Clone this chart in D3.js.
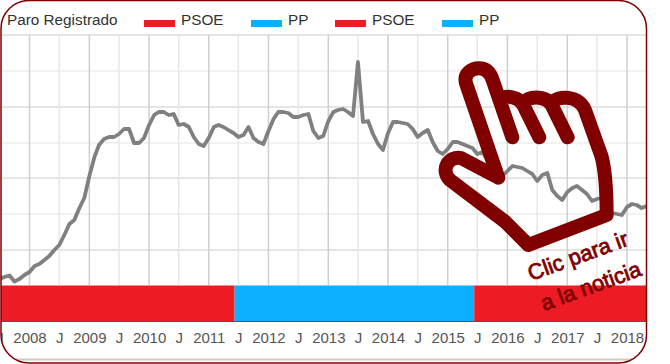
<!DOCTYPE html>
<html>
<head>
<meta charset="utf-8">
<script src="https://cdnjs.cloudflare.com/ajax/libs/d3/7.8.5/d3.min.js"></script>
<style>
html, body { margin: 0; padding: 0; background: #fff; }
svg { display: block; font-family: "Liberation Sans", Arial, sans-serif; }
</style>
</head>
<body>
<svg id="chart" width="670" height="364"></svg>
<script>
// Monthly values from Jul 2007 (height above the bands)
const START_DATE = new Date(2007, 6, 1);
const PARO = [
  6, 8, 9.5, 3.5, 6, 10, 13, 19, 21, 25, 29, 35, 40, 50, 61, 65, 77, 87, 109, 128,
  140, 146, 148, 148, 151, 156, 156, 142, 142, 147, 160, 170, 173, 173, 170, 171, 160, 161, 158, 148,
  141, 139, 147, 158, 160, 158, 155, 152, 148, 150, 158, 147, 143, 141, 154, 166, 173, 173, 172, 168,
  168, 170, 171, 154, 147, 149, 164, 173, 175, 176, 173, 169, 223, 163, 164, 151, 141, 135, 152, 163,
  163, 162, 161, 156, 148, 152, 155, 143, 134, 131, 136, 143, 143, 141, 139, 137, 131, 133, 125, 120,
  115, 109, 114, 119, 118, 117, 114, 111, 104, 110, 112, 95, 89, 85, 93, 97, 99, 95, 91, 84,
  86, 87, 81, 72, 71, 70, 78, 81, 80, 77, 79
];

// Government periods
const GOV_LABELS = ['PSOE', 'PP', 'PSOE'];
const GOV_STARTS = ['2007-06-01', '2011-06-08', '2015-06-12'];
const GOV_ENDS   = ['2011-06-08', '2015-06-12', '2018-12-01'];
const GOV_COLORS = { PSOE: '#ed1c24', PP: '#0cb0ff' };

const LEGEND_TITLE = 'Paro Registrado';
const LEGEND_ITEMS = ['PSOE', 'PP', 'PSOE', 'PP'];
const LEGEND_X = [144, 251, 335, 442];

const YEARS = [2008, 2009, 2010, 2011, 2012, 2013, 2014, 2015, 2016, 2017, 2018];
const Y_MAJOR = [0, 35, 107, 178, 250];
const Y_MINOR = [71, 142, 214];

const W = 670, H = 364;
const FRAME = { x: 1, y: 0.5, w: 645.5, h: 362.5, r: 28 };
const PLOT = { top: 35, bottom: 285 };
const BAND = { top: 285.5, bottom: 321 };

const svg = d3.select('#chart');
const defs = svg.append('defs');
defs.append('clipPath').attr('id', 'frame-clip').append('rect')
    .attr('x', FRAME.x).attr('y', FRAME.y).attr('width', FRAME.w).attr('height', FRAME.h).attr('rx', FRAME.r);

const g = svg.append('g').attr('clip-path', 'url(#frame-clip)');

const x = d3.scaleTime()
    .domain([new Date(2008, 0, 1), new Date(2018, 0, 1)])
    .range([29.5, 627]);
const y = d3.scaleLinear().domain([0, 250]).range([PLOT.bottom, PLOT.bottom - 250]);

const months = PARO.map((v, i) => d3.timeMonth.offset(START_DATE, i));
const janTicks = YEARS.map(yr => new Date(yr, 0, 1));
const julTicks = d3.range(2007, 2018).map(yr => new Date(yr, 6, 1));

// ── Grid ─────────────────────────────────────────────────────────────────────
g.selectAll('.y-minor').data(Y_MINOR).join('line')
    .attr('x1', 0).attr('x2', W).attr('y1', d => y(d)).attr('y2', d => y(d))
    .attr('stroke', '#eeeeee').attr('stroke-width', 1.5);
g.selectAll('.y-major').data(Y_MAJOR.slice(1)).join('line')
    .attr('x1', 0).attr('x2', W).attr('y1', d => y(d)).attr('y2', d => y(d))
    .attr('stroke', '#dcdcdc').attr('stroke-width', 1.5);
g.selectAll('.x-minor').data(julTicks).join('line')
    .attr('x1', d => x(d)).attr('x2', d => x(d)).attr('y1', PLOT.top).attr('y2', PLOT.bottom)
    .attr('stroke', '#e8e8e8').attr('stroke-width', 1.5);
g.selectAll('.x-major').data(janTicks).join('line')
    .attr('x1', d => x(d)).attr('x2', d => x(d)).attr('y1', PLOT.top).attr('y2', PLOT.bottom)
    .attr('stroke', '#cfcfcf').attr('stroke-width', 1.5);

// ── Series ───────────────────────────────────────────────────────────────────
const line = d3.line().x((d, i) => x(months[i])).y(d => y(d));
g.append('path').datum(PARO)
    .attr('d', line)
    .attr('fill', 'none')
    .attr('stroke', '#808080')
    .attr('stroke-width', 3.8)
    .attr('stroke-linejoin', 'round');

// ── Government bands ─────────────────────────────────────────────────────────
g.selectAll('.gov').data(GOV_LABELS).join('rect')
    .attr('x', (d, i) => x(new Date(GOV_STARTS[i] + 'T00:00')))
    .attr('width', (d, i) => x(new Date(GOV_ENDS[i] + 'T00:00')) - x(new Date(GOV_STARTS[i] + 'T00:00')))
    .attr('y', BAND.top)
    .attr('height', BAND.bottom - BAND.top)
    .attr('fill', d => GOV_COLORS[d]);
g.append('line')
    .attr('x1', 0).attr('x2', W).attr('y1', BAND.bottom + 0.5).attr('y2', BAND.bottom + 0.5)
    .attr('stroke', '#555').attr('stroke-width', 1);

// ── Axis labels ──────────────────────────────────────────────────────────────
const xAxis = d3.axisBottom(x)
    .tickValues([...julTicks, ...janTicks])
    .tickSize(0)
    .tickPadding(0)
    .tickFormat(d => d.getMonth() === 0 ? d.getFullYear() : 'J');
const axisG = g.append('g').attr('transform', `translate(0,332)`).call(xAxis);
axisG.select('.domain').remove();
axisG.selectAll('text').attr('fill', '#555').attr('font-size', '15px').attr('font-family', '"Liberation Sans", Arial, sans-serif');

// ── Legend ───────────────────────────────────────────────────────────────────
svg.append('text').attr('x', 7).attr('y', 25)
    .attr('fill', '#333').attr('font-size', '15.3px').text(LEGEND_TITLE);
const leg = svg.selectAll('.leg').data(LEGEND_ITEMS).join('g')
    .attr('transform', (d, i) => `translate(${LEGEND_X[i]},0)`);
leg.append('rect').attr('y', 20).attr('width', 31).attr('height', 7).attr('fill', d => GOV_COLORS[d]);
leg.append('text').attr('x', 37).attr('y', 25)
    .attr('fill', '#333').attr('font-size', '15.3px').text(d => d);

// ── Frame ────────────────────────────────────────────────────────────────────
g.append('line').attr('x1', 0).attr('x2', W).attr('y1', 359.5).attr('y2', 359.5)
    .attr('stroke', '#cfcabc').attr('stroke-width', 2);
svg.append('rect')
    .attr('x', FRAME.x).attr('y', FRAME.y).attr('width', FRAME.w).attr('height', FRAME.h).attr('rx', FRAME.r)
    .attr('fill', 'none').attr('stroke', '#800000').attr('stroke-width', 1.5);

// ── Pointing hand + call to action ───────────────────────────────────────────
svg.append('g').attr('transform', 'translate(430,50) scale(0.3333)')
  .append('path')
    .attr('d', 'M205,383 L108,100 C100,70 125,55 147,55 C170,55 182,72 188,90 L247,262 M208,150 C225,135 270,135 285,175 L328,262 M278,160 C300,135 355,135 370,175 L413,262 M362,160 C385,135 445,135 465,180 L515,320 C528,370 530,430 530,495 L295,585 L225,515 L60,390 C30,360 55,315 95,325 L205,383')
    .attr('fill', 'none')
    .attr('stroke', '#800000')
    .attr('stroke-width', 42)
    .attr('stroke-linecap', 'round')
    .attr('stroke-linejoin', 'round');

const note = svg.append('g').attr('fill', '#800000').attr('font-size', '22px').attr('stroke', '#800000').attr('stroke-width', 0.8);
note.append('text').attr('transform', 'translate(531,281) rotate(-20)').text('Clic para ir');
note.append('text').attr('transform', 'translate(544,311) rotate(-20)').text('a la noticia');
</script>
</body>
</html>
